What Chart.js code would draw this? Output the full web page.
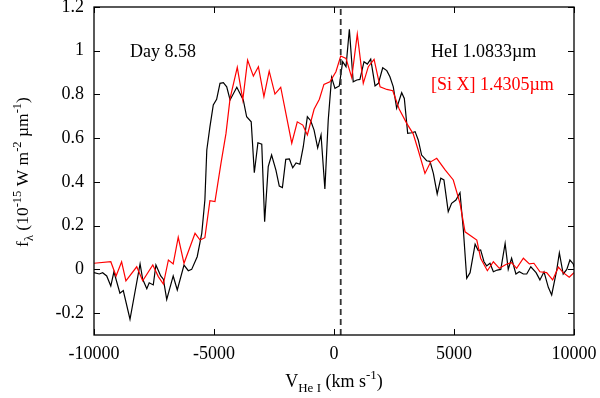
<!DOCTYPE html>
<html lang="en">
<head>
    <meta charset="UTF-8">
    <title>HeI / [Si X] Day 8.58</title>
    <script src="https://cdn.jsdelivr.net/npm/chart.js"></script>
    <style>
        html, body { margin: 0; padding: 0; background: #fff; }
        #wrap { width: 600px; height: 398px; }
    </style>
</head>
<body>
    <div id="wrap"><canvas id="lineChart"></canvas></div>

    <script>
        // HeI 1.0833um profile (black)
        var heV = [-10000,-9780,-9640,-9470,-9300,-9170,-8920,-8780,-8500,-8080,
            -7970,-7800,-7700,-7530,-7420,-7220,-7110,-6970,-6700,-6530,
            -6250,-6070,-5930,-5700,-5510,-5380,-5300,-5170,-5030,-4890,
            -4750,-4610,-4470,-4330,-4050,-3780,-3640,-3450,-3320,-3170,
            -3010,-2890,-2740,-2600,-2420,-2280,-2150,-2010,-1860,-1720,
            -1580,-1420,-1280,-1110,-970,-830,-680,-540,-380,-240,
            -100,40,220,360,500,640,800,950,1080,1250,
            1390,1530,1710,1850,2030,2200,2330,2470,2610,2820,
            2930,3070,3240,3380,3510,3650,3860,4000,4140,4300,
            4450,4580,4760,4900,5080,5250,5390,5530,5670,5880,
            6010,6110,6250,6360,6500,6640,6800,6950,7130,7260,
            7400,7580,7720,7890,8030,8200,8420,8580,8750,8930,
            9070,9280,9390,9550,9700,9830,9970,10000];
        var heFlux = [-0.015,-0.021,-0.015,-0.030,-0.076,-0.011,-0.109,-0.097,-0.228,0.025,
            -0.045,-0.088,-0.061,-0.071,0.020,-0.030,-0.045,-0.137,-0.030,-0.094,
            0.020,-0.006,0.000,0.058,0.165,0.317,0.546,0.652,0.752,0.778,
            0.851,0.854,0.835,0.775,0.833,0.775,0.698,0.675,0.442,0.579,
            0.573,0.218,0.470,0.523,0.454,0.381,0.374,0.503,0.505,0.465,
            0.487,0.481,0.561,0.698,0.680,0.637,0.556,0.615,0.368,0.683,
            0.878,0.828,0.839,0.950,0.927,1.098,0.858,0.866,0.869,0.950,
            0.939,0.962,0.839,0.851,0.922,0.909,0.881,0.835,0.737,0.808,
            0.782,0.622,0.625,0.630,0.592,0.523,0.497,0.494,0.439,0.345,
            0.417,0.409,0.264,0.302,0.317,0.351,0.180,-0.041,-0.015,0.115,
            0.086,0.089,0.035,0.016,0.028,-0.011,-0.003,0.000,0.119,0.000,
            0.051,-0.021,-0.011,-0.021,-0.021,0.012,-0.015,-0.048,-0.011,-0.082,
            -0.117,-0.003,0.076,-0.021,0.000,0.043,0.025,0.012];

        // [Si X] 1.4305um profile (red)
        var siV = [-10000,-9300,-9080,-8850,-8670,-8220,-7970,-7550,-7320,-7110,
            -6900,-6700,-6490,-6250,-5790,-5580,-5380,-5170,-4960,-4710,
            -4500,-4330,-4030,-3800,-3600,-3360,-3150,-2920,-2700,-2460,
            -2220,-1760,-1530,-1300,-1110,-830,-610,-420,-170,80,
            280,500,740,970,1220,1430,1670,1920,2200,2450,
            2720,3030,3300,3510,3790,4030,4280,4630,4970,5250,
            5460,5950,6110,6390,6640,6890,7200,7400,7610,7890,
            8140,8330,8580,8860,9110,9350,9550,9800,10000];
        var siFlux = [0.028,0.035,-0.030,0.035,-0.052,0.012,-0.052,0.020,-0.033,-0.067,
            0.043,0.025,0.147,0.028,0.165,0.134,0.145,0.314,0.310,0.485,
            0.622,0.782,0.924,0.775,0.957,0.884,0.927,0.790,0.907,0.802,
            0.833,0.577,0.675,0.660,0.615,0.732,0.778,0.846,0.858,0.904,
            0.976,0.965,0.877,1.076,0.851,0.927,0.961,0.835,0.823,0.817,
            0.732,0.668,0.620,0.545,0.439,0.492,0.508,0.455,0.409,0.302,
            0.172,0.134,0.051,-0.006,0.035,0.005,0.025,0.031,0.005,0.051,
            0.025,0.028,-0.011,-0.015,-0.048,0.010,-0.015,-0.036,-0.015];

        // rest velocity marker (dashed)
        var restV = [280, 280];
        var restFlux = [-0.3, 1.2];

        var xTicks = [-10000, -5000, 0, 5000, 10000];
        var xTickLabels = ['-10000', '-5000', '0', '5000', '10000'];
        var yTicks = [-0.2, 0, 0.2, 0.4, 0.6, 0.8, 1, 1.2];
        var yTickLabels = ['-0.2', '0', '0.2', '0.4', '0.6', '0.8', '1', '1.2'];

        var serif = "'Liberation Serif', 'DejaVu Serif', serif";
        Chart.defaults.font.family = serif;
        Chart.defaults.font.size = 18;
        Chart.defaults.color = '#000';

        function pts(xs, ys) {
            return xs.map(function (x, i) { return { x: x, y: ys[i] }; });
        }

        // text with sub/superscripts: parts = [[text, -1 sub | 0 | 1 sup], ...]
        function richText(ctx, parts, size, small) {
            var w = 0;
            parts.forEach(function (p) {
                ctx.font = (p[1] ? small : size) + 'px ' + serif;
                p.w = ctx.measureText(p[0]).width;
                w += p.w;
            });
            var x = -w / 2;
            parts.forEach(function (p) {
                ctx.font = (p[1] ? small : size) + 'px ' + serif;
                var dy = p[1] === -1 ? size * 0.28 : (p[1] === 1 ? -size * 0.42 : 0);
                ctx.fillText(p[0], x, dy);
                x += p.w;
            });
        }

        var framePlugin = {
            id: 'frame',
            afterDraw: function (chart) {
                var ctx = chart.ctx, a = chart.chartArea;
                var xs = chart.scales.x, ys = chart.scales.y;
                var tl = 6;
                ctx.save();
                ctx.strokeStyle = '#000';
                ctx.lineWidth = 1.3;
                ctx.strokeRect(a.left, a.top, a.right - a.left, a.bottom - a.top);
                ctx.lineWidth = 1;
                ctx.beginPath();
                xTicks.forEach(function (v) {
                    var px = Math.round(xs.getPixelForValue(v)) + 0.5;
                    ctx.moveTo(px, a.bottom); ctx.lineTo(px, a.bottom - tl);
                    ctx.moveTo(px, a.top); ctx.lineTo(px, a.top + tl);
                });
                yTicks.forEach(function (v) {
                    var py = Math.round(ys.getPixelForValue(v)) + 0.5;
                    ctx.moveTo(a.left, py); ctx.lineTo(a.left + tl, py);
                    ctx.moveTo(a.right, py); ctx.lineTo(a.right - tl, py);
                });
                ctx.stroke();

                // annotations
                ctx.textBaseline = 'alphabetic';
                ctx.textAlign = 'left';
                ctx.font = '18px ' + serif;
                ctx.fillStyle = '#000';
                ctx.fillText('Day 8.58', 130, 57);
                ctx.fillText('HeI 1.0833\u00b5m', 431, 57);
                ctx.fillStyle = '#ff0000';
                ctx.fillText('[Si X] 1.4305\u00b5m', 431, 90);

                // axis titles
                ctx.fillStyle = '#000';
                ctx.save();
                ctx.translate(334, 387);
                richText(ctx, [['V', 0], ['He I', -1], [' (km s', 0], ['-1', 1], [')', 0]], 18, 13);
                ctx.restore();
                ctx.save();
                ctx.translate(28, 172);
                ctx.rotate(-Math.PI / 2);
                richText(ctx, [['f', 0], ['\u03bb', -1], [' (10', 0], ['-15', 1], [' W m', 0],
                    ['-2', 1], [' \u00b5m', 0], ['-1', 1], [')', 0]], 17.5, 12.5);
                ctx.restore();
                ctx.restore();
            }
        };

        var ctx = document.getElementById('lineChart').getContext('2d');
        var lineChart = new Chart(ctx, {
            type: 'line',
            data: {
                datasets: [{
                    label: 'rest',
                    data: pts(restV, restFlux),
                    borderColor: '#333',
                    borderWidth: 1.8,
                    borderDash: [6, 4],
                    pointRadius: 0
                }, {
                    label: '[Si X] 1.4305um',
                    data: pts(siV, siFlux),
                    borderColor: '#ff0000',
                    borderWidth: 1.2,
                    pointRadius: 0,
                    tension: 0
                }, {
                    label: 'HeI 1.0833um',
                    data: pts(heV, heFlux),
                    borderColor: '#000',
                    borderWidth: 1.2,
                    pointRadius: 0,
                    tension: 0
                }]
            },
            options: {
                responsive: true,
                maintainAspectRatio: false,
                animation: false,
                layout: { padding: { left: 0, top: 7, right: 26, bottom: 0 } },
                scales: {
                    x: {
                        type: 'linear',
                        min: -10000,
                        max: 10000,
                        grid: { display: false, drawTicks: false },
                        border: { display: false },
                        afterBuildTicks: function (s) {
                            s.ticks = xTicks.map(function (v) { return { value: v }; });
                        },
                        afterFit: function (s) { s.height = 63; s.paddingLeft = 0; s.paddingRight = 0; },
                        ticks: {
                            padding: 8,
                            maxRotation: 0,
                            callback: function (v) { return xTickLabels[xTicks.indexOf(v)]; }
                        }
                    },
                    y: {
                        min: -0.3,
                        max: 1.2,
                        grid: { display: false, drawTicks: false },
                        border: { display: false },
                        afterBuildTicks: function (s) {
                            s.ticks = yTicks.map(function (v) { return { value: v }; });
                        },
                        afterFit: function (s) { s.width = 94; s.paddingTop = 0; s.paddingBottom = 0; },
                        ticks: {
                            padding: 10,
                            callback: function (v) { return yTickLabels[yTicks.indexOf(v)]; }
                        }
                    }
                },
                plugins: {
                    legend: { display: false },
                    tooltip: { enabled: false }
                }
            },
            plugins: [framePlugin]
        });
    </script>
</body>
</html>
